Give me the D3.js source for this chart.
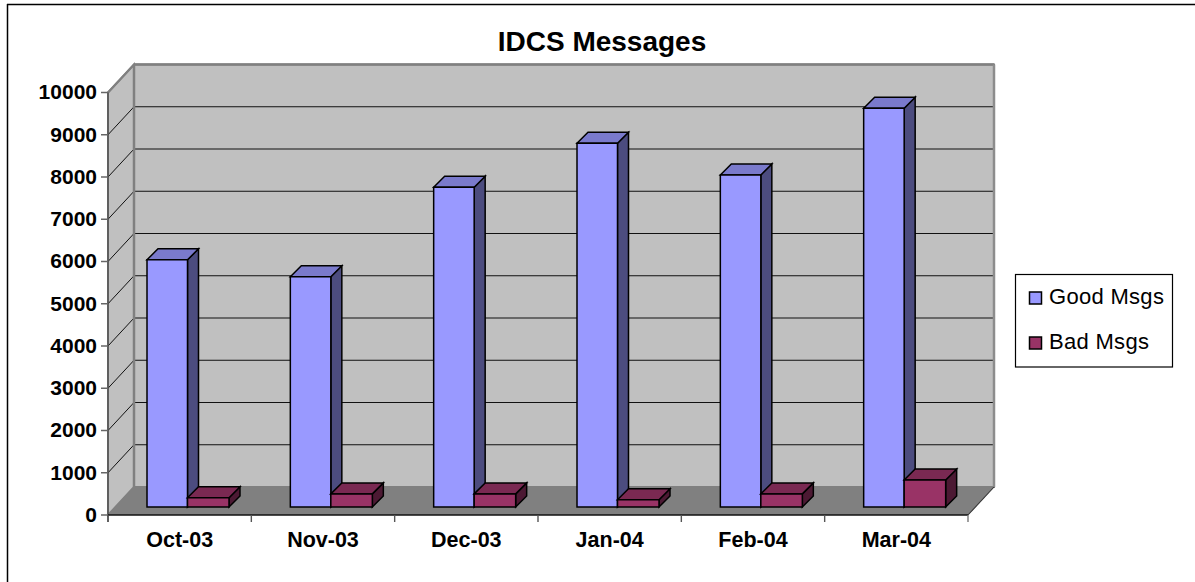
<!DOCTYPE html>
<html><head><meta charset="utf-8">
<script src="https://cdn.jsdelivr.net/npm/d3@7/dist/d3.min.js"></script>
<style>html,body{margin:0;padding:0;background:#fff}svg{display:block}text{font-family:"Liberation Sans",Arial,sans-serif;fill:#000}</style>
</head><body><svg id="c" width="1195" height="582"></svg>
<script>
const categories=["Oct-03","Nov-03","Dec-03","Jan-04","Feb-04","Mar-04"];
const goodMsgs=[5850,5450,7570,8610,7860,9440];
const badMsgs=[220,310,310,170,310,640];
const yTicks=[0,1000,2000,3000,4000,5000,6000,7000,8000,9000,10000];
const seriesNames=["Good Msgs","Bad Msgs"];
const titleText="IDCS Messages";

(function(){
const svg=d3.select("#c");
const W=860,X0=108,Y0=515,Y1=92.5,DX=26,DY=28; // plot frame
const x=d3.scaleBand().domain(categories).range([X0,X0+W]);
const y=d3.scaleLinear().domain([0,10000]).range([Y0,Y1]);
const poly=(pts,fill,stroke,sw)=>svg.append("polygon").attr("points",pts.map(p=>p.join(",")).join(" ")).attr("fill",fill).attr("stroke",stroke||"none").attr("stroke-width",sw||0).attr("stroke-linejoin","miter");
const line=(a,b,c,d,col,sw)=>svg.append("line").attr("x1",a).attr("y1",b).attr("x2",c).attr("y2",d).attr("stroke",col).attr("stroke-width",sw);

// outer frame
line(7.5,4,7.5,582,"#000",1.5);
line(7,4.5,1195,4.5,"#000",1.5);

// walls
const L=X0,R=X0+W,BL=X0+DX,BR=R+DX,wallTop=y(10000)-DY,floorB=y(0)-DY;
poly([[BL,wallTop],[BR,wallTop],[BR,floorB],[BL,floorB]],"#c0c0c0","#808080",2);
poly([[L,y(10000)],[BL,wallTop],[BL,floorB],[L,y(0)]],"#c0c0c0","#808080",2);
poly([[L,Y0],[BL,floorB],[BR,floorB],[R,Y0]],"#808080");

// gridlines
yTicks.slice(1,-1).forEach(t=>{
  line(BL,y(t)-DY,BR-1,y(t)-DY,"#111",1.1);
  line(L,y(t),BL,y(t)-DY,"#111",1);
});
line(BL,wallTop,BR,wallTop,"#808080",2.5);
line(BR,wallTop,BR,floorB,"#8c8c8c",2.5);
line(BL,wallTop,BL,floorB,"#808080",2.5);
line(L,y(10000),BL,wallTop,"#808080",2);

// bars (3D boxes sit inside the floor)
const OFF=8,D=11,dyD=11;
const gap=40.5,bw=41.5;
function box(x0,w,v,c){
  const b=Y0-OFF, t=y(v)-OFF;
  poly([[x0+w,t],[x0+w+D,t-dyD],[x0+w+D,b-dyD],[x0+w,b]],c.side,"#000",1.5);
  poly([[x0,t],[x0+D,t-dyD],[x0+w+D,t-dyD],[x0+w,t]],c.top,"#000",1.5);
  poly([[x0,t],[x0+w,t],[x0+w,b],[x0,b]],c.front,"#000",1.5);
}
const goodC={front:"#9999ff",side:"#4c4c7f",top:"#7a7acc"};
const badC={front:"#993366",side:"#4c1933",top:"#7a2952"};
categories.forEach((c,i)=>{
  const x0=x(c)+39;
  box(x0,gap,goodMsgs[i],goodC);
  box(x0+gap,bw,badMsgs[i],badC);
});

// axis lines
line(L,y(10000),L,Y0+7,"#555",1.5);
line(L,Y0,R,Y0,"#111",1.6);
line(R,Y0,BR,floorB,"#333",1.1);
yTicks.forEach(t=>{
  line(L-7,y(t),L,y(t),"#666",1.5);
  svg.append("text").attr("x",97).attr("y",y(t)).attr("dy","0.33em").attr("text-anchor","end")
     .attr("font-size",21).attr("font-weight","bold").text(t);
});
x.domain().forEach(c=>line(x(c),Y0,x(c),Y0+7,"#555",1.4));
line(R,Y0,R,Y0+7,"#777",1.4);
categories.forEach(c=>{
  svg.append("text").attr("x",x(c)+x.bandwidth()/2).attr("y",547).attr("text-anchor","middle")
     .attr("font-size",21.5).attr("font-weight","bold").text(c);
});

// title
svg.append("text").attr("x",602).attr("y",51).attr("text-anchor","middle").attr("font-size",28).attr("font-weight","bold").text(titleText);

// legend
svg.append("rect").attr("x",1015.5).attr("y",274.5).attr("width",157).attr("height",92.5).attr("fill","#fff").attr("stroke","#000").attr("stroke-width",1.2);
seriesNames.forEach((n,i)=>{
  const ly=[298,343][i];
  svg.append("rect").attr("x",1029.5).attr("y",ly-6).attr("width",12).attr("height",12)
     .attr("fill",i?badC.front:goodC.front).attr("stroke","#000").attr("stroke-width",1.5);
  svg.append("text").attr("x",1049).attr("y",ly+6).attr("font-size",22).attr("letter-spacing",0.3).text(n);
});
})();
</script></body></html>
